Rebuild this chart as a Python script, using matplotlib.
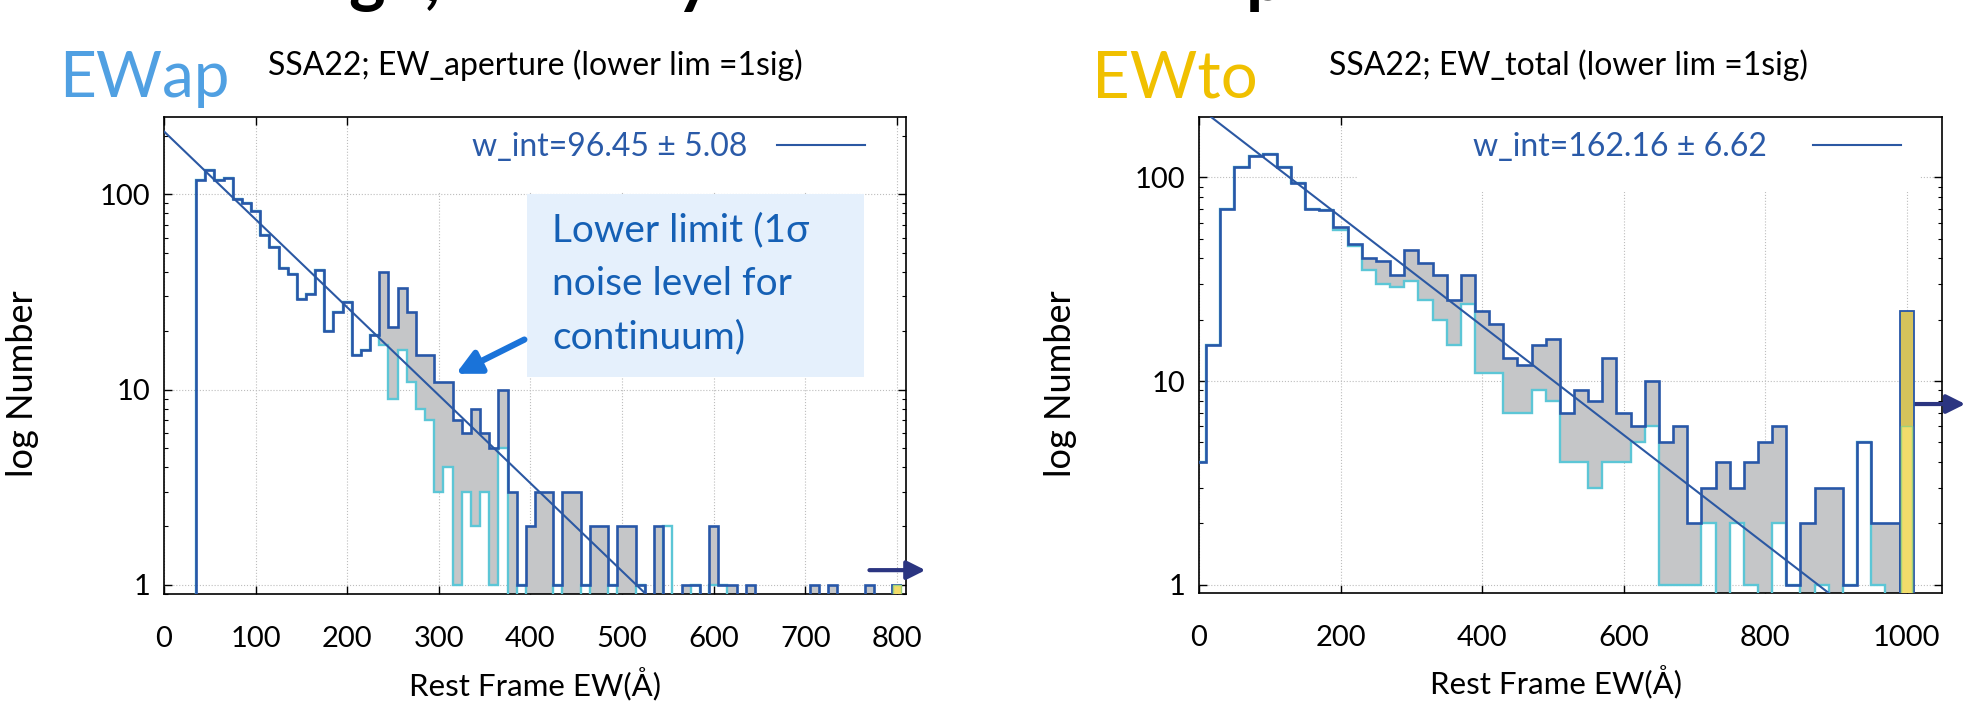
import numpy as np
import matplotlib.pyplot as plt
from matplotlib.patches import Rectangle

plt.rcParams['font.family'] = ['Lato', 'DejaVu Sans']

# EW_aperture: 10 A bins, all objects (blue) and lower-limit sample (cyan)
ap_centers = np.arange(40, 800, 10)
ap_all = np.array([118, 134, 118, 122, 95, 90, 82, 62, 54, 42,
                   39, 29, 31, 41, 20, 25, 28, 15, 16, 19,
                   40, 21, 33, 25, 15, 15, 11, 11, 7, 6,
                   8, 6, 5, 10, 3, 1, 2, 3, 3, 1,
                   3, 3, 1, 2, 2, 1, 2, 2, 1, 0,
                   2, 0, 0, 1, 1, 0, 2, 1, 1, 0,
                   1, 0, 0, 0, 0, 0, 0, 1, 0, 1,
                   0, 0, 0, 1, 0, 0])
ap_lim = np.array([118, 134, 118, 122, 95, 90, 82, 62, 54, 42,
                   39, 29, 31, 41, 20, 25, 28, 15, 16, 19,
                   17, 9, 16, 11, 8, 7, 3, 4, 1, 3,
                   2, 3, 1, 5, 0, 1, 0, 0, 0, 1,
                   0, 0, 1, 0, 0, 1, 0, 0, 1, 0,
                   0, 2, 0, 0, 1, 0, 1, 1, 0, 0,
                   0, 0, 0, 0, 0, 0, 0, 0, 0, 0,
                   0, 0, 0, 0, 0, 0])
ap_over = [800, 1, 1]          # overflow bin: EW, all, lower lim
ap_fit = [210, 96.45, 5.08]    # amplitude, w_int, error

# EW_total: 20 A bins
to_centers = np.arange(0, 1000, 20)
to_all = np.array([4, 15, 70, 112, 127, 130, 113, 94, 70, 69,
                   57, 47, 40, 39, 33, 44, 38, 33, 25, 33,
                   22, 19, 13, 12, 15, 16, 7, 9, 8, 13,
                   7, 6, 10, 5, 6, 2, 3, 4, 3, 4,
                   5, 6, 1, 2, 3, 3, 1, 5, 2, 2])
to_lim = np.array([4, 15, 70, 112, 127, 130, 113, 94, 70, 69,
                   55, 46, 35, 30, 29, 31, 25, 20, 15, 24,
                   11, 11, 7, 7, 9, 8, 4, 4, 3, 4,
                   4, 5, 6, 1, 1, 1, 2, 0, 2, 1,
                   0, 2, 1, 0, 1, 0, 1, 5, 1, 0])
to_over = [1000, 22, 6]
to_fit = [220, 162.16, 6.62]

blue = '#2857a8'
cyan = '#5cc6d6'
W, H = 1972, 722
FLOOR = 0.5

fig = plt.figure(figsize=(W / 100, H / 100), dpi=100)
axL = fig.add_axes([164 / W, 1 - 594 / H, (906 - 164) / W, (594 - 117) / H])
axR = fig.add_axes([1199 / W, 1 - 593 / H, (1942 - 1199) / W, (593 - 117) / H])


def panel(ax, centers, width, n_all, n_lim, over, fit, xmax, ylim, xticks, box,
          textpad, xlab_x, ylab_x):
    edges = np.append(centers - width / 2, centers[-1] + width / 2)
    a = np.where(n_all > 0, n_all, FLOOR).astype(float)
    l = np.where(n_lim > 0, n_lim, FLOOR).astype(float)
    gap = a > l
    ax.set_yscale('log')
    ax.bar(centers[gap], a[gap] - l[gap], bottom=l[gap], width=width,
           color='#c5c6c8', lw=0, zorder=2)
    ax.stairs(l, edges, baseline=FLOOR, color=cyan, lw=1.7, zorder=3)
    ax.stairs(a, edges, baseline=FLOOR, color=blue, lw=1.9, zorder=4)
    # overflow bin
    ax.bar(over[0], over[1] - FLOOR, bottom=FLOOR, width=width,
           color='#d6c35b', edgecolor=blue, lw=1.3, zorder=5)
    ax.bar(over[0], over[2] - FLOOR, bottom=FLOOR, width=width * 0.8,
           color='#f2dc6b', edgecolor='#9fd27a', lw=1.0, zorder=6)
    amp, w, err = fit
    x = np.linspace(0, xmax, 400)
    ax.plot(x, amp * np.exp(-x / w), color='#2b58a3', lw=1.5, zorder=7,
            label='w_int=%.2f ± %.2f' % (w, err))
    # white key area hides the grid
    ax.add_patch(Rectangle((box[0], box[2]), box[1] - box[0], ylim[1] - box[2],
                           facecolor='white', edgecolor='none', zorder=1))
    ax.set_xlim(0, xmax)
    ax.set_ylim(*ylim)
    ax.set_xticks(xticks)
    ax.set_yticks([1, 10, 100])
    ax.set_yticklabels(['1', '10', '100'])
    ax.set_axisbelow(True)
    ax.grid(True, which='major', ls=':', color='#bdbdbd', lw=0.8)
    ax.tick_params(which='both', direction='in', top=True, right=True,
                   labelsize=21)
    ax.tick_params(axis='x', pad=23)
    ax.tick_params(axis='y', pad=10)
    ax.tick_params(which='major', length=6, width=1)
    ax.tick_params(which='minor', length=3, width=0.8)
    for s in ax.spines.values():
        s.set_linewidth(1.2)
    ax.set_ylabel('log Number', fontsize=26)
    ax.set_xlabel('Rest Frame EW(Å)', fontsize=22.5)
    ax.yaxis.set_label_coords(ylab_x, 0.44)
    ax.xaxis.set_label_coords(xlab_x, -0.152)
    leg = ax.legend(loc='upper right', markerfirst=False, frameon=False,
                    fontsize=23, handlelength=2.75, handletextpad=textpad,
                    borderpad=0, borderaxespad=0, bbox_to_anchor=(0.945, 0.968))
    for t in leg.get_texts():
        t.set_color('#2a5aa8')


panel(axL, ap_centers, 10, ap_all, ap_lim, ap_over, ap_fit, 810, (0.899, 249),
      np.arange(0, 801, 100), (210, 785, 103), 0.95, 0.5, -0.168)
panel(axR, to_centers, 20, to_all, to_lim, to_over, to_fit, 1050, (0.91, 198),
      np.arange(0, 1001, 200), (223, 1019, 85), 1.45, 0.48, -0.164)

# annotation on the left panel
axL.add_patch(Rectangle((0.489, 0.455), 0.455, 0.383, transform=axL.transAxes,
                        facecolor='#e5f0fc', edgecolor='none', zorder=1.5))
axL.text(0.523, 0.80, 'Lower limit (1σ\nnoise level for\ncontinuum)',
         transform=axL.transAxes, fontsize=28, color='#1560b5',
         va='top', ha='left', linespacing=1.6, zorder=8)
axL.annotate('', xy=(0.39, 0.459), xytext=(0.489, 0.536),
             xycoords='axes fraction', textcoords='axes fraction',
             arrowprops=dict(arrowstyle='-|>', color='#1a73d9', lw=4.5,
                             mutation_scale=36), zorder=8)

# overflow arrows
axL.annotate('', xy=(1.03, 0.05), xytext=(0.947, 0.05),
             xycoords='axes fraction', annotation_clip=False,
             arrowprops=dict(arrowstyle='-|>', color='#2b3581', lw=3,
                             mutation_scale=28))
axR.annotate('', xy=(1.035, 0.397), xytext=(0.95, 0.397),
             xycoords='axes fraction', annotation_clip=False,
             arrowprops=dict(arrowstyle='-|>', color='#2b3581', lw=3,
                             mutation_scale=28))

# headings
fig.text(59 / W, 1 - 97 / H, 'EWap', fontsize=46, color='#50a0e2', va='baseline')
fig.text(1092 / W, 1 - 98 / H, 'EWto', fontsize=47, color='#f0c000', va='baseline')
fig.text(268 / W, 1 - 75 / H, 'SSA22; EW_aperture (lower lim =1sig)', fontsize=23,
         va='baseline')
fig.text(1329 / W, 1 - 75 / H, 'SSA22; EW_total (lower lim =1sig)', fontsize=23,
         va='baseline')

# slide title cut off at the top edge: only the descenders show
for ch, xp in [('g', 348), (',', 424), ('y', 676), ('p', 1246)]:
    fig.text(xp / W, 1 - 12 / H, ch, fontsize=50, fontweight='bold',
             va='bottom', ha='left')

fig.savefig('out.png', dpi=100)
